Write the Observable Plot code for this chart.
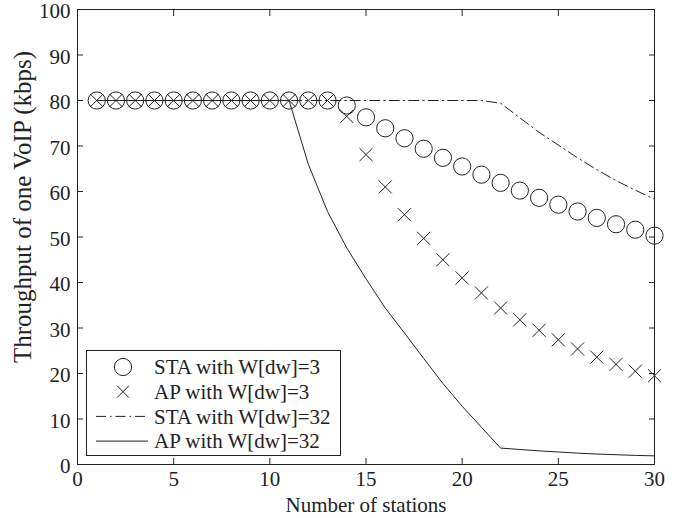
<!DOCTYPE html>
<html>
<head>
<meta charset="utf-8">
<script src="https://cdn.jsdelivr.net/npm/d3@7"></script>
<script src="https://cdn.jsdelivr.net/npm/@observablehq/plot@0.6"></script>
<style>
  body { margin: 0; background: #fff; }
  #wrap { position: relative; width: 679px; height: 518px; font-family: "Liberation Serif", "Times New Roman", serif; }
  #legend { position: absolute; left: 86px; top: 350px; }
</style>
</head>
<body>
<div id="wrap"></div>
<script>
const stations = [1,2,3,4,5,6,7,8,9,10,11,12,13,14,15,16,17,18,19,20,21,22,23,24,25,26,27,28,29,30];
const staW3 = [80,80,80,80,80,80,80,80,80,80,80,80,80,78.9,76.3,73.9,71.7,69.4,67.4,65.5,63.7,61.9,60.2,58.6,57.1,55.6,54.2,52.8,51.6,50.3];
const apW3 = [80,80,80,80,80,80,80,80,80,80,80,80,80,76.5,68.1,61.0,54.9,49.7,45.0,41.0,37.7,34.4,31.8,29.5,27.4,25.4,23.6,22.0,20.5,19.5];
const staW32 = [80,80,80,80,80,80,80,80,80,80,80,80,80,80,80,80,80,80,80,80,80,79.4,76.2,73.0,70.2,67.4,64.8,62.4,60.3,58.3];
const apW32 = [80,80,80,80,80,80,80,80,80,80,80,66.0,55.6,47.6,40.8,34.4,28.9,23.3,17.8,12.8,8.2,3.6,3.3,3.0,2.75,2.5,2.3,2.15,2.0,1.9];
const xTicks = [0,5,10,15,20,25,30];
const yTicks = [0,10,20,30,40,50,60,70,80,90,100];
const legendLabels = ["STA with W[dw]=3", "AP with W[dw]=3", "STA with W[dw]=32", "AP with W[dw]=32"];
const xLabel = "Number of stations";
const yLabel = "Throughput of one VoIP (kbps)";

const ink = "#222";
const serif = '"Liberation Serif", "Times New Roman", serif';
const rows = (ys) => stations.map((s, i) => ({x: s, y: ys[i]}));

const chart = Plot.plot({
  width: 679,
  height: 518,
  marginLeft: 77,
  marginRight: 25,
  marginTop: 9,
  marginBottom: 54,
  style: {fontFamily: serif, fontSize: "21px", color: ink, background: "#fff"},
  x: {domain: [0, 30]},
  y: {domain: [0, 100]},
  marks: [
    Plot.line(rows(staW32), {x: "x", y: "y", stroke: ink, strokeWidth: 1, strokeDasharray: "10,4,1.5,4"}),
    Plot.line(rows(apW32), {x: "x", y: "y", stroke: ink, strokeWidth: 1}),
    Plot.dot(rows(staW3), {x: "x", y: "y", r: 8.6, stroke: ink, strokeWidth: 1, fill: "none"}),
    Plot.dot(rows(apW3), {x: "x", y: "y", r: 6, symbol: "times", stroke: ink, strokeWidth: 1}),
    Plot.frame({stroke: ink, strokeWidth: 1}),
    Plot.axisX(xTicks, {anchor: "bottom", tickSize: -6, tickPadding: 13, label: xLabel, labelAnchor: "center", labelOffset: 47, labelArrow: false, stroke: ink, fill: ink, fontSize: 21}),
    Plot.axisX(xTicks, {anchor: "top", tickSize: -6, tickFormat: () => "", label: null, stroke: ink}),
    Plot.axisY(yTicks, {anchor: "left", tickSize: -6, tickFormat: () => "", label: null, stroke: ink}),
    Plot.axisY(yTicks, {anchor: "left", tickSize: 0, tickPadding: 7, dy: 2, label: null, fill: ink, fontSize: 21}),
    Plot.axisY(yTicks, {anchor: "right", tickSize: -6, tickFormat: () => "", label: null, stroke: ink}),
    Plot.text([yLabel], {frameAnchor: "left", rotate: -90, dx: -55, dy: -30, fontSize: 25, fill: ink, textAnchor: "middle"})
  ]
});
document.getElementById("wrap").appendChild(chart);

// Legend (inside the axes, as in the original)
const lg = d3.select("#wrap").append("svg").attr("id", "legend")
  .attr("width", 256).attr("height", 107);
lg.append("rect").attr("x", 0.5).attr("y", 0.5).attr("width", 254).attr("height", 105)
  .attr("fill", "#fff").attr("stroke", ink);
const rowY = (i) => 17 + i * 24.7;
const g = lg.selectAll("g.row").data(legendLabels).join("g").attr("class", "row")
  .attr("transform", (d, i) => `translate(0,${rowY(i)})`);
g.append("text").attr("x", 68).attr("y", 0).attr("dy", "0.35em")
  .attr("font-family", serif).attr("font-size", 21)
  .attr("fill", ink).text(d => d);
g.filter((d, i) => i === 0).append("circle").attr("cx", 37).attr("cy", 0).attr("r", 8.6)
  .attr("fill", "none").attr("stroke", ink);
g.filter((d, i) => i === 1).append("path").attr("d", "M31,-6L43,6M31,6L43,-6").attr("stroke", ink).attr("fill", "none");
g.filter((d, i) => i === 2).append("line").attr("x1", 10).attr("x2", 62).attr("stroke", ink).attr("stroke-dasharray", "10,4,1.5,4");
g.filter((d, i) => i === 3).append("line").attr("x1", 10).attr("x2", 62).attr("stroke", ink);
</script>
</body>
</html>
